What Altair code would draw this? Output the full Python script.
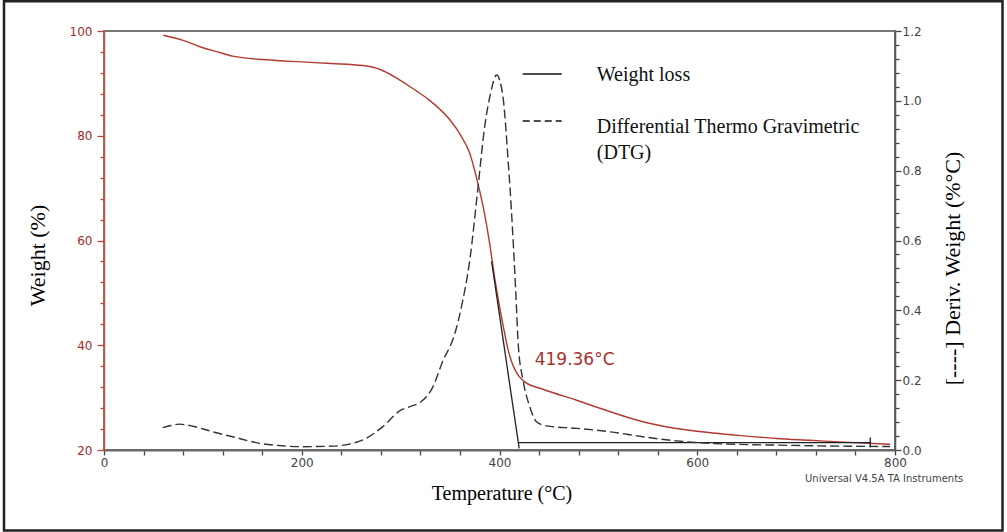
import altair as alt
import pandas as pd

# ---- data ----
temp_weight = [60, 80, 97, 115, 130, 164, 200, 230, 262, 280, 296, 310, 329, 340, 350, 360, 370,
               378, 385, 390, 395, 400, 405, 408, 412, 416, 420, 425.5, 444, 478, 512,
               545, 579, 613, 647, 680, 714, 748, 795]
weight_pct = [99.2, 98.2, 97.0, 96.0, 95.2, 94.5, 94.1, 93.8, 93.4, 92.6, 91.0, 89.3, 86.8, 85.0, 83.0, 80.3, 76.6,
              71.0, 65.0, 59.5, 53.0, 47.4, 42.5, 39.7, 37.0, 35.2, 34.0, 33.0, 31.6, 29.5, 27.3,
              25.4, 24.1, 23.3, 22.7, 22.2, 21.85, 21.5, 21.1]

temp_dtg = [59.4, 68, 76, 90, 110, 130, 158, 180, 200, 231, 248, 265, 282, 299, 310, 319, 333, 342,
            355, 361.5, 370, 378, 385, 391, 397, 403, 408.7, 413, 416.5, 419, 423.8, 430.6, 437.4,
            447.5, 478, 512, 545, 579, 613, 680, 748, 795]
dtg_val = [0.064, 0.070, 0.074, 0.068, 0.052, 0.038, 0.019, 0.012, 0.0095, 0.011, 0.017, 0.033, 0.067,
           0.112, 0.125, 0.135, 0.183, 0.25, 0.335, 0.41, 0.545, 0.745, 0.926, 1.022, 1.074, 1.022,
           0.83, 0.64, 0.45, 0.30, 0.20, 0.124, 0.081, 0.069, 0.062, 0.052, 0.038, 0.026, 0.019,
           0.014, 0.011, 0.010]

# onset construction (tangent, baseline, end marker)
seg_x = [392.0, 419.36, 775.0]
seg_x2 = [419.9, 775.0, 775.0]
seg_y = [56.0, 21.4, 20.5]
seg_y2 = [20.3, 21.4, 22.4]

# legend
legend_x = [423.5, 423.5]
legend_x2 = [462.9, 462.9]
legend_y = [91.8, 82.8]
legend_dash = ["solid", "dash"]
legend_text = ["Weight loss", "Differential Thermo Gravimetric", "(DTG)"]
legend_tx = [498.4, 498.4, 498.4]
legend_ty = [91.6, 81.7, 76.7]

annot_text = ["419.36°C"]
annot_x = [435.6]
annot_y = [37.1]

credit_text = ["Universal V4.5A TA Instruments"]
credit_x = [709.0]
credit_y = [14.4]

x_ticks = list(range(0, 801, 40))
yl_ticks = list(range(20, 101, 4))
yr_ticks = [round(i * 0.04, 2) for i in range(0, 31)]

RED = "#b23a2e"
LABEL_RED = "#9e2a2b"

wdf = pd.DataFrame({"T": temp_weight, "W": weight_pct})
ddf = pd.DataFrame({"T": temp_dtg, "D": dtg_val})
sdf = pd.DataFrame({"x": seg_x, "x2": seg_x2, "y": seg_y, "y2": seg_y2})
ldf = pd.DataFrame({"x": legend_x, "x2": legend_x2, "y": legend_y, "k": legend_dash})
ltdf = pd.DataFrame({"x": legend_tx, "y": legend_ty, "t": legend_text})
adf = pd.DataFrame({"x": annot_x, "y": annot_y, "t": annot_text})
cdf = pd.DataFrame({"x": credit_x, "y": credit_y, "t": credit_text})

xs = alt.Scale(domain=[0, 800], nice=False, zero=False)
yls = alt.Scale(domain=[20, 100], nice=False, zero=False)
yrs = alt.Scale(domain=[0, 1.2], nice=False, zero=False)

x_axis = alt.Axis(
    values=x_ticks, labelExpr="datum.value % 200 === 0 ? datum.label : ''",
    format="d", grid=False, domainColor="#666", domainWidth=2, tickColor="#444",
    tickSize=5, tickWidth=1.3, labelColor="#444", labelFont="DejaVu Sans", labelFontSize=12,
    labelPadding=2, labelFlush=False,
    title="Temperature (°C)", titleFont="Liberation Serif", titleFontSize=20,
    titleFontWeight="normal", titleColor="#000", titleX=397.5, titleY=43,
    titleAlign="center", titleBaseline="middle",
)
yl_axis = alt.Axis(
    values=yl_ticks, labelExpr="datum.value % 20 === 0 ? datum.label : ''",
    format="d", grid=False, domainColor="#c8553d", domainWidth=1.5, tickColor="#b8443a",
    tickWidth=1.3,
    tickSize={"condition": {"test": "datum.value % 20 !== 0", "value": 4}, "value": 7},
    labelColor=LABEL_RED, labelFont="DejaVu Sans", labelFontSize=12, labelPadding=5,
    title="Weight (%)", titleFont="Liberation Serif", titleFontSize=22,
    titleFontWeight="normal", titleColor="#000", titleAngle=270, titleX=-66.5, titleY=224,
    titleAlign="center", titleBaseline="middle",
)
yr_axis = alt.Axis(
    orient="right", values=yr_ticks,
    labelExpr="abs(datum.value*5 - round(datum.value*5)) < 0.001 ? format(datum.value, '.1f') : ''",
    grid=False, domainColor="#555", domainWidth=1.5, tickColor="#444", tickWidth=1.3,
    tickSize={"condition": {"test": "abs(datum.value*5 - round(datum.value*5)) > 0.001", "value": 4}, "value": 6},
    labelColor="#444", labelFont="DejaVu Sans", labelFontSize=12, labelPadding=1,
    title="[----] Deriv. Weight (%°C)", titleFont="Liberation Serif", titleFontSize=22,
    titleFontWeight="normal", titleColor="#000", titleAngle=270, titleX=57.5, titleY=237,
    titleAlign="center", titleBaseline="middle",
)


def X(f):
    return alt.X(f, scale=xs, axis=x_axis)


def YL(f):
    return alt.Y(f, scale=yls, axis=yl_axis)


red = alt.Chart(wdf).mark_line(color=RED, strokeWidth=1.4, interpolate="monotone").encode(
    x=X("T:Q"), y=YL("W:Q"),
)
segs = alt.Chart(sdf).mark_rule(color="#222", strokeWidth=1.3).encode(
    x=X("x:Q"), x2="x2:Q", y=YL("y:Q"), y2="y2:Q",
)
leg_solid = alt.Chart(ldf).transform_filter("datum.k === 'solid'").mark_rule(
    color="#111", strokeWidth=1.5).encode(x=X("x:Q"), x2="x2:Q", y=YL("y:Q"))
leg_dash = alt.Chart(ldf).transform_filter("datum.k === 'dash'").mark_rule(
    color="#111", strokeWidth=1.5, strokeDash=[7, 4]).encode(x=X("x:Q"), x2="x2:Q", y=YL("y:Q"))
leg_text = alt.Chart(ltdf).mark_text(
    align="left", baseline="middle", font="Liberation Serif", fontSize=20, color="#111").encode(
    x=X("x:Q"), y=YL("y:Q"), text="t:N",
)
annot = alt.Chart(adf).mark_text(
    align="left", baseline="middle", font="DejaVu Sans", fontSize=17, color="#a8302c").encode(
    x=X("x:Q"), y=YL("y:Q"), text="t:N",
)
credit = alt.Chart(cdf).mark_text(
    align="left", baseline="middle", font="DejaVu Sans", fontSize=10, color="#444").encode(
    x=X("x:Q"), y=YL("y:Q"), text="t:N",
)
frame = alt.Chart(cdf).mark_rect(fill=None, stroke="#222", strokeWidth=2.5).encode(
    x=alt.value(-100), x2=alt.value(898.5), y=alt.value(-29.7), y2=alt.value(499.5),
)

left = alt.layer(red, segs, leg_solid, leg_dash, leg_text, annot, credit, frame)

dtg = alt.Chart(ddf).mark_line(color="#333", strokeWidth=1.4, strokeDash=[9, 4],
                               interpolate="monotone").encode(
    x=X("T:Q"),
    y=alt.Y("D:Q", scale=yrs, axis=yr_axis),
)

chart = alt.layer(left, dtg).resolve_scale(y="independent").properties(
    width=791, height=419,
    autosize=alt.AutoSizeParams(type="none"),
    padding={"left": 104, "top": 31, "right": 112, "bottom": 82},
    background="white",
).configure_view(stroke="#777", strokeWidth=2)

chart.save("out.html", embed_options={"renderer": "svg", "actions": False})
